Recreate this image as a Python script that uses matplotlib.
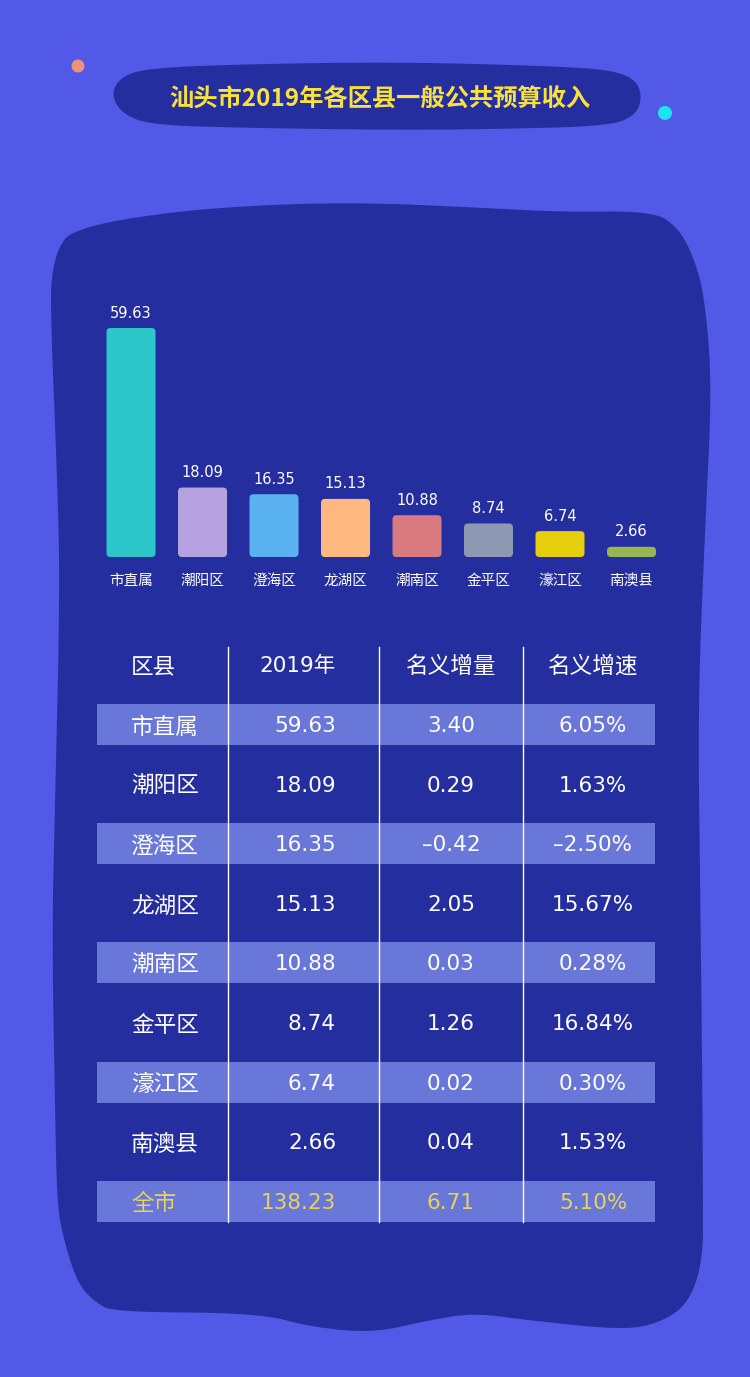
import numpy as np
import matplotlib
matplotlib.use("Agg")
import matplotlib.pyplot as plt
from matplotlib.patches import Polygon, Circle, FancyBboxPatch, Rectangle

plt.rcParams['font.family'] = ['DejaVu Sans', 'Noto Sans CJK SC']

# ---------------- data ----------------
title = '汕头市2019年各区县一般公共预算收入'
districts = ['市直属', '潮阳区', '澄海区', '龙湖区', '潮南区', '金平区', '濠江区', '南澳县']
values_2019 = [59.63, 18.09, 16.35, 15.13, 10.88, 8.74, 6.74, 2.66]
increase = [3.40, 0.29, -0.42, 2.05, 0.03, 1.26, 0.02, 0.04]
growth = [6.05, 1.63, -2.50, 15.67, 0.28, 16.84, 0.30, 1.53]
total_name = '全市'
total_2019 = 138.23
total_increase = 6.71
total_growth = 5.10
headers = ['区县', '2019年', '名义增量', '名义增速']
bar_colors = ['#2EC7C9', '#B6A2DE', '#5AB1EF', '#FFB980', '#D87A80',
              '#8D98B3', '#E5CF0D', '#97B552']

# ---------------- style ----------------
BG = '#5159E6'
BLOB = '#252E9E'
BAND = '#6977D8'
YELLOW_T = '#F8E13C'
YELLOW_R = '#E6D35C'

W, H = 750, 1377
fig = plt.figure(figsize=(W / 100, H / 100), dpi=100)
fig.patch.set_facecolor(BG)

ax0 = fig.add_axes([0, 0, 1, 1])
ax0.set_xlim(0, W)
ax0.set_ylim(H, 0)
ax0.axis('off')
ax0.patch.set_visible(False)


def chaikin(pts, n=3):
    pts = np.asarray(pts, float)
    for _ in range(n):
        q = np.roll(pts, -1, axis=0)
        a = 0.75 * pts + 0.25 * q
        b = 0.25 * pts + 0.75 * q
        pts = np.empty((2 * len(a), 2))
        pts[0::2] = a
        pts[1::2] = b
    return pts


blob_pts = [(71, 232), (120, 219), (219, 207), (352, 202), (486, 208), (560, 212),
            (652, 211), (678, 227), (695, 260), (705, 300), (712, 386), (705, 530),
            (698, 702), (700, 875), (702, 1047), (703, 1196), (703, 1260),
            (689, 1303), (660, 1323), (622, 1330), (526, 1320), (474, 1313),
            (430, 1320), (373, 1333), (311, 1327), (258, 1313), (115, 1312),
            (96, 1303), (77, 1283), (62, 1233), (57, 1200), (55, 1105), (52, 932),
            (55, 806), (60, 587), (57, 472), (50, 300), (53, 267), (60, 245)]
ax0.add_patch(Polygon(chaikin(blob_pts, 3), closed=True, facecolor=BLOB,
                      edgecolor='none', zorder=1))

pill_pts = [(111, 93), (122, 76), (150, 68), (250, 64), (400, 62), (550, 66),
            (612, 70), (636, 80), (642, 97), (636, 115), (610, 126), (500, 129),
            (400, 130), (250, 128), (150, 125), (121, 113)]
ax0.add_patch(Polygon(chaikin(pill_pts, 3), closed=True, facecolor=BLOB,
                      edgecolor='none', zorder=1))

ax0.add_patch(Circle((78, 66), 6.5, facecolor='#F0917B', edgecolor='none', zorder=2))
ax0.add_patch(Circle((665, 113), 7, facecolor='#1DE4F2', edgecolor='none', zorder=2))

ax0.text(380, 99, title, ha='center', va='center', color=YELLOW_T,
         fontsize=17.5, fontweight='heavy', family=['Noto Sans CJK SC'], zorder=3)

# ---------------- bar chart ----------------
px_per_unit = 3.84
ymax = 65
ax_h = ymax * px_per_unit
step = 71.5
ax_left = 131 - step / 2
ax_w = step * len(districts)
ax_bottom_px = 557
ax = fig.add_axes([ax_left / W, (H - ax_bottom_px) / H, ax_w / W, ax_h / H])
ax.patch.set_visible(False)
ax.set_xlim(-0.5, len(districts) - 0.5)
ax.set_ylim(0, ymax)
ax.axis('off')

bw = 49 / step
x = np.arange(len(districts))
bars = ax.bar(x, values_2019, width=bw, color=bar_colors)
r_px = 4
aspect = (1 / px_per_unit) / (1 / step)
for b, c in zip(bars, bar_colors):
    bx, by = b.get_x(), b.get_y()
    bwid, bh = b.get_width(), b.get_height()
    b.set_visible(False)
    ax.add_patch(FancyBboxPatch((bx, by), bwid, bh,
                                boxstyle=f'round,pad=0,rounding_size={r_px / step}',
                                mutation_aspect=aspect, facecolor=c, edgecolor='none'))

for i, v in enumerate(values_2019):
    ax.annotate(f'{v:.2f}', xy=(i, v), xytext=(0, 10.8), textcoords='offset points',
                ha='center', va='center', color='white', fontsize=10.5)
    ax.text(i, -23 / ax_h, districts[i], transform=ax.get_xaxis_transform(),
            ha='center', va='center', color='white', fontsize=10.5, fontweight='medium')

# ---------------- table ----------------
def fmt_num(v):
    s = f'{abs(v):.2f}'
    return ('–' + s) if v < 0 else s


def fmt_pct(v):
    s = f'{abs(v):.2f}%'
    return ('–' + s) if v < 0 else s


rows = [(d, f'{a:.2f}', fmt_num(b), fmt_pct(c))
        for d, a, b, c in zip(districts, values_2019, increase, growth)]
rows.append((total_name, f'{total_2019:.2f}', fmt_num(total_increase), fmt_pct(total_growth)))

tab_left, tab_right = 97, 655
header_y = 664
row0 = 724.5
row_step = 59.6
band_h = 41
col_x = [131, 336, 451, 593]
col_ha = ['left', 'right', 'center', 'center']
vlines = [228, 379, 523]
fs_num = 15.5
fs_cjk = 16.3
num_dy = 1.5
cjk_dy = 2.5

for j, h in enumerate(headers):
    is_cjk = j != 1
    ax0.text(col_x[j], header_y + (cjk_dy if is_cjk else num_dy), h, ha=col_ha[j],
             va='center', color='white',
             fontsize=fs_cjk if is_cjk else fs_num, fontweight='medium', zorder=4)

for i, row in enumerate(rows):
    cy = row0 + row_step * i
    if i % 2 == 0:
        ax0.add_patch(Rectangle((tab_left, cy - band_h / 2), tab_right - tab_left, band_h,
                                facecolor=BAND, edgecolor='none', zorder=2))
    color = YELLOW_R if i == len(rows) - 1 else 'white'
    for j, t in enumerate(row):
        is_cjk = j == 0
        ax0.text(col_x[j], cy + (cjk_dy if is_cjk else num_dy), t, ha=col_ha[j],
                 va='center', color=color,
                 fontsize=fs_cjk if is_cjk else fs_num, fontweight='medium', zorder=4)

table_bottom = row0 + row_step * (len(rows) - 1) + band_h / 2
for vx in vlines:
    ax0.plot([vx, vx], [647, table_bottom], color='white', lw=1, zorder=3)

fig.savefig('out.png', dpi=100, facecolor=BG)
